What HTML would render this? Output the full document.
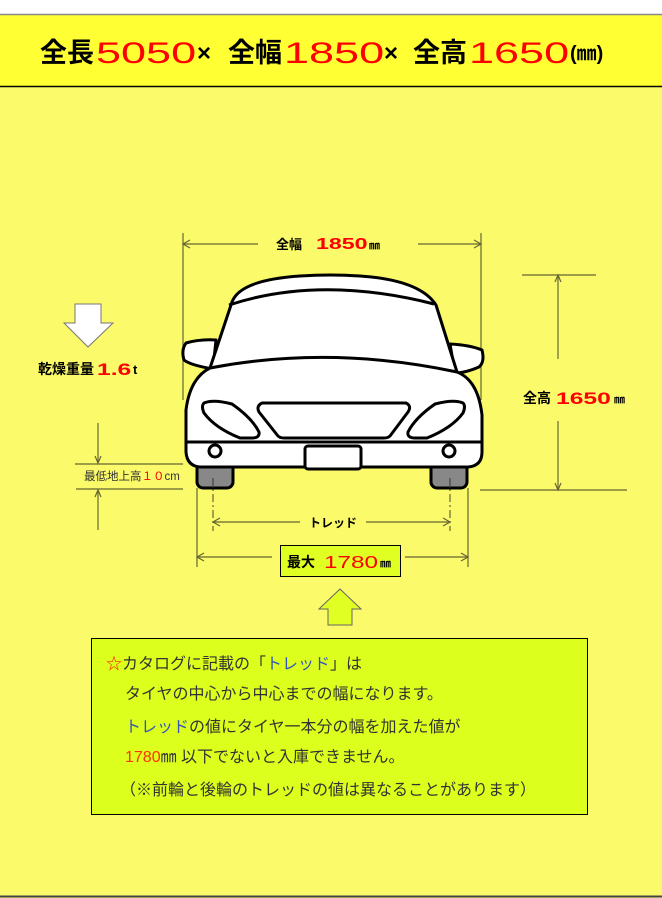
<!DOCTYPE html>
<html><head><meta charset="utf-8"><style>
html,body{margin:0;padding:0;background:#fff}
svg{display:block}
.j{font-family:"Liberation Sans","Noto Sans CJK JP",sans-serif}
</style></head><body>
<svg width="662" height="898" viewBox="0 0 662 898" xmlns="http://www.w3.org/2000/svg" class="j">
<rect x="0" y="0" width="662" height="898" fill="#ffffff"/>
<rect x="0" y="14" width="662" height="884" fill="#fafa6a"/>
<rect x="0" y="14" width="662" height="72" fill="#ffff33"/>
<line x1="0" y1="14.5" x2="662" y2="14.5" stroke="#888" stroke-width="1.5"/>
<line x1="0" y1="86.5" x2="662" y2="86.5" stroke="#000" stroke-width="1.5"/>
<line x1="0" y1="896.5" x2="662" y2="896.5" stroke="#444" stroke-width="2"/>

<g font-size="27" font-weight="bold">
<text x="40" y="62">全長</text>
<text x="228" y="62">全幅</text>
<text x="413" y="62">全高</text>
<text x="197" y="61" font-size="24">×</text>
<text x="384" y="61" font-size="24">×</text>
<text x="570" y="60" font-size="20">(㎜)</text>
</g>
<g fill="#ff0000" font-size="30">
<text transform="translate(96,63) scale(1.5,1)">5050</text>
<text transform="translate(284,63) scale(1.5,1)">1850</text>
<text transform="translate(469,63) scale(1.5,1)">1650</text>
</g>

<g stroke="#666633" stroke-width="1.2" fill="none">
<line x1="183" y1="233" x2="183" y2="400"/>
<line x1="481" y1="233" x2="481" y2="400"/>
<line x1="183" y1="244" x2="258" y2="244"/>
<line x1="418" y1="244" x2="481" y2="244"/>
<polyline points="190,240 183,244 190,248"/>
<polyline points="474,240 481,244 474,248"/>
<line x1="522" y1="275" x2="596" y2="275"/>
<line x1="480" y1="490" x2="627" y2="490"/>
<line x1="558" y1="275" x2="558" y2="359"/>
<line x1="558" y1="421" x2="558" y2="490"/>
<polyline points="555,282 558,275 561,282"/>
<polyline points="555,483 558,490 561,483"/>
<line x1="75" y1="464" x2="183" y2="464"/>
<line x1="76" y1="489" x2="183" y2="489"/>
<line x1="98" y1="423" x2="98" y2="463"/>
<line x1="98" y1="490" x2="98" y2="530"/>
<polyline points="95,456 98,463 101,456"/>
<polyline points="95,497 98,490 101,497"/>
<line x1="197" y1="488" x2="197" y2="567"/>
<line x1="468" y1="488" x2="468" y2="567"/>
<line x1="197" y1="557" x2="272" y2="557"/>
<line x1="405" y1="557" x2="468" y2="557"/>
<polyline points="204,553 197,557 204,561"/>
<polyline points="461,553 468,557 461,561"/>
<line x1="213" y1="522" x2="300" y2="522"/>
<line x1="366" y1="522" x2="450" y2="522"/>
<polyline points="220,518 213,522 220,526"/>
<polyline points="443,518 450,522 443,526"/>
<line x1="213" y1="478" x2="213" y2="531" stroke-dasharray="8,3,2,3"/>
<line x1="450" y1="478" x2="450" y2="531" stroke-dasharray="8,3,2,3"/>
</g>

<g stroke="#000" stroke-width="3" fill="#fff" stroke-linejoin="round">
<rect x="197" y="455" width="36" height="33" rx="6" fill="#888"/>
<rect x="431" y="455" width="36" height="33" rx="6" fill="#888"/>
<path d="M216 340 Q200 339 186 343 Q181 350 184 360 Q190 365 213 369 Z"/>
<path d="M450 344 Q470 345 482 350 Q485 362 479 367 Q465 373 455 373 Z"/>
<path d="M232 302 Q240 280 300 276 Q330 274 360 276 Q420 280 436 305 L457 372 Q330 352 210 368 Z"/>
<path d="M229 305 Q320 275 434 304" fill="none"/>
<path d="M210 368 Q190 378 186 410 L186 452 Q187 466 200 467 L468 467 Q482 466 482 452 L482 415 Q478 380 457 372 Q330 345 210 368 Z"/>
<line x1="187" y1="442" x2="482" y2="442"/>
<path d="M204 403 Q213 399 232 404 Q252 418 259 432 Q260 438 252 438 L240 438 Q215 428 204 413 Q201 406 204 403 Z"/>
<path d="M463 403 Q454 399 435 404 Q415 418 408 432 Q407 438 415 438 L427 438 Q452 428 463 413 Q466 406 463 403 Z"/>
<path d="M262 403 L406 403 Q412 406 408 412 L390 436 Q388 438 384 438 L284 438 Q280 438 278 436 L259 412 Q256 406 262 403 Z"/>
<circle cx="215" cy="451" r="6"/>
<circle cx="449" cy="451" r="6"/>
<rect x="305" y="446" width="56" height="23" rx="3"/>
</g>
<line x1="213" y1="478" x2="213" y2="488" stroke="#333" stroke-width="1"/>
<line x1="450" y1="478" x2="450" y2="488" stroke="#333" stroke-width="1"/>

<text x="276" y="249" font-size="13" font-weight="bold">全幅</text>
<text transform="translate(316,249) scale(1.45,1)" font-size="16" fill="#ff0000" font-weight="bold">1850</text>
<text x="369" y="249" font-size="11" font-weight="bold">㎜</text>

<text x="523" y="403" font-size="14" font-weight="bold">全高</text>
<text transform="translate(556,404) scale(1.45,1)" font-size="17" fill="#ff0000" font-weight="bold">1650</text>
<text x="614" y="403" font-size="11" font-weight="bold">㎜</text>

<path d="M75 304 L101 304 L101 323 L113 323 L88 347 L64 323 L75 323 Z" fill="#fff" stroke="#777" stroke-width="1"/>
<text x="38" y="374" font-size="14" font-weight="bold">乾燥重量</text>
<text transform="translate(97,375) scale(1.45,1)" font-size="17" fill="#ff0000" font-weight="bold">1.6</text>
<text x="133" y="374" font-size="13" font-weight="bold">t</text>
<text x="84" y="480" font-size="11.5" fill="#333">最低地上高<tspan fill="#ff0000">１０</tspan>cm</text>

<text x="333" y="527" text-anchor="middle" font-size="12" font-weight="bold">トレッド</text>

<rect x="280.5" y="545.5" width="120" height="31" fill="#e0ff22" stroke="#000" stroke-width="1"/>
<text x="287" y="567" font-size="14" font-weight="bold">最大</text>
<text transform="translate(324,568) scale(1.35,1)" font-size="18" fill="#ff0000">1780</text>
<text x="380" y="567" font-size="11" font-weight="bold">㎜</text>

<path d="M340 589 L361 609 L352 609 L352 625 L328 625 L328 609 L319 609 Z" fill="#e0ff22" stroke="#666" stroke-width="1"/>

<rect x="91.5" y="638.5" width="496" height="176" fill="#dcff1e" stroke="#000" stroke-width="1"/>
<g font-size="16" fill="#333">
<text x="106" y="669"><tspan fill="#ff2200">☆</tspan>カタログに記載の「<tspan fill="#3355bb">トレッド</tspan>」は</text>
<text x="125" y="699">タイヤの中心から中心までの幅になります。</text>
<text x="125" y="732"><tspan fill="#3355bb">トレッド</tspan>の値にタイヤ一本分の幅を加えた値が</text>
<text x="125" y="762"><tspan fill="#ff3300">1780</tspan>㎜ 以下でないと入庫できません。</text>
<text x="120" y="795">（※前輪と後輪のトレッドの値は異なることがあります）</text>
</g>
</svg>
</body></html>
